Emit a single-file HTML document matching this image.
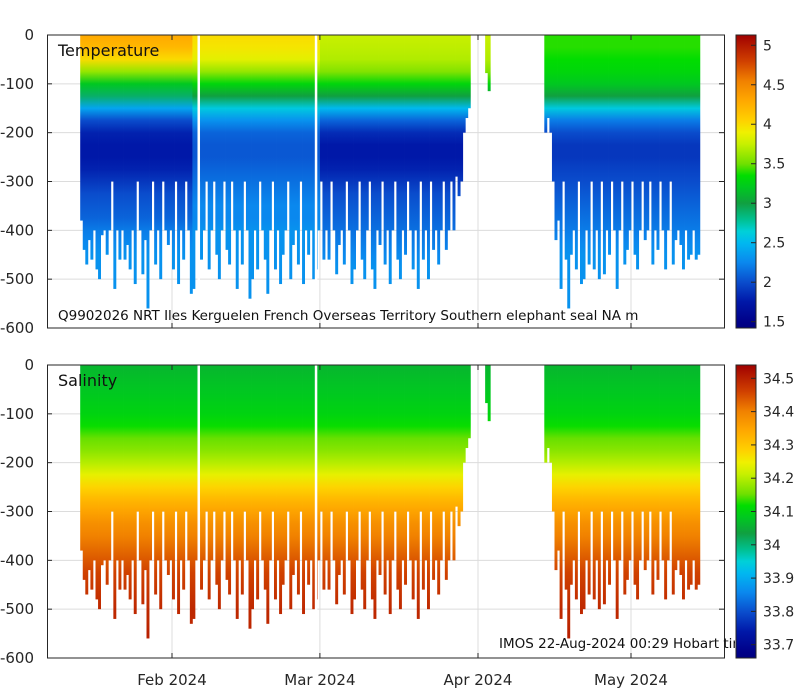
<!DOCTYPE html>
<html><head><meta charset="utf-8"><style>
html,body{margin:0;padding:0;background:#fff;}
svg{display:block;font-family:"DejaVu Sans","Liberation Sans",sans-serif;}
</style></head><body>
<svg id="chart" width="800" height="700" viewBox="0 0 800 700" xmlns="http://www.w3.org/2000/svg">
<defs>
<clipPath id="clipTop"><rect x="47" y="35" width="677" height="293"/></clipPath>
<clipPath id="clipBot"><rect x="47" y="365" width="677" height="293"/></clipPath>
<clipPath id="clipCap"><rect x="47" y="365" width="688" height="293"/></clipPath>
</defs>
<g id="layer"></g>
</svg>
<script>
// ---- data ----
const depthLevels = [0,25,50,75,100,125,150,175,200,225,250,275,300,325,350,375,400,425,450,475,500,525,550,575,600];
const tempJan = [4.3,4.2,4.0,3.6,3.2,2.9,2.4,2.0,1.8,1.75,1.75,1.8,1.9,2.0,2.05,2.1,2.2,2.25,2.3,2.3,2.3,2.3,2.3,2.3,2.3];
const tempFeb = [4.0,3.95,3.85,3.6,3.3,3.0,2.6,2.3,2.1,2.05,2.05,2.1,2.15,2.2,2.25,2.25,2.3,2.3,2.3,2.3,2.3,2.3,2.3,2.3,2.3];
const tempMar = [3.75,3.72,3.68,3.55,3.3,3.0,2.5,2.1,1.85,1.75,1.75,1.8,1.9,2.0,2.05,2.1,2.15,2.2,2.25,2.3,2.3,2.3,2.3,2.3,2.3];
const tempAprMay = [3.4,3.4,3.35,3.3,3.2,3.0,2.6,2.2,2.0,1.9,1.9,1.95,2.0,2.05,2.1,2.15,2.2,2.25,2.3,2.3,2.3,2.3,2.3,2.3,2.3];
const salProfile = [34.06,34.07,34.08,34.09,34.1,34.12,34.15,34.17,34.2,34.24,34.28,34.32,34.35,34.38,34.4,34.42,34.44,34.46,34.47,34.48,34.49,34.49,34.5,34.5,34.5];
// profiles: start day (days since 1 Jan 2024), spacing 0.5 day
const segAStart = 13;
const segADepths = [380,440,470,420,460,400,480,500,410,400,450,400,300,520,400,460,
400,460,430,480,400,510,300,400,490,420,560,400,300,470,400,500,
300,400,430,400,480,300,510,400,460,300,400,530,520,400,300,460,
400,300,480,400,300,450,500,400,300,440,470,300,400,520,400,470,
300,400,540,500,400,480,300,400,460,530,400,300,480,400,510,450,
400,300,500,430,400,470,300,510,400,450,400,500,480,400,300,460,
400,460,300,400,490,430,400,470,300,400,510,480,400,300,460,500,
400,300,480,520,400,430,300,470,400,510,400,300,460,500,400,450,
300,400,480,400,520,300,460,400,500,300,440,400,470,400,300,440,
400,300,400,290,330,300,200,170,150];
const segMidDays = [92.4,92.9];
const segMidDepths = [78,115];
const segBStart = 104;
const segBDepths = [200,170,200,300,420,380,520,300,460,560,450,400,480,300,510,500,400,470,300,480,
400,500,300,490,400,450,300,400,520,400,300,470,440,400,300,450,480,400,300,420,
400,300,470,400,440,300,400,480,400,300,470,420,400,430,480,400,460,450,400,460,450];
const gapDays = [36,59];
const xTickDays = [31,60,91,121];
const xTickLabels = ["Feb 2024","Mar 2024","Apr 2024","May 2024"];
const yTicks = [0,-100,-200,-300,-400,-500,-600];
const tempTicks = [1.5,2,2.5,3,3.5,4,4.5,5];
const salTicks = [33.7,33.8,33.9,34,34.1,34.2,34.3,34.4,34.5];

// ---- scales ----
const NS="http://www.w3.org/2000/svg";
const X0=47,X1=724;
const xOf = d => 172 + (d-31)*5.1;
const panels=[{top:35,bot:328},{top:365,bot:658}];
const yOf = (p,dep) => p.top + dep/600*(p.bot-p.top);
const TMIN=1.42,TMAX=5.13,SMIN=33.66,SMAX=34.54;
const cmap=[[0,"#000080"],[0.02,"#000088"],[0.09,"#0018a8"],[0.156,"#0a4ccc"],[0.224,"#0a88ee"],[0.29,"#00b8f0"],[0.33,"#00d0d8"],[0.37,"#00c090"],[0.426,"#10a040"],[0.48,"#00c820"],[0.52,"#00dd00"],[0.56,"#70e000"],[0.628,"#c8f000"],[0.668,"#f0f000"],[0.71,"#ffd000"],[0.776,"#ffa800"],[0.844,"#f08000"],[0.91,"#d04000"],[1,"#a00000"]];
function hex(h){return [1,3,5].map(i=>parseInt(h.substr(i,2),16));}
function colorAt(t){t=Math.max(0,Math.min(1,t));for(let i=1;i<cmap.length;i++){if(t<=cmap[i][0]){const a=cmap[i-1],b=cmap[i];const f=(t-a[0])/(b[0]-a[0]||1);const ca=hex(a[1]),cb=hex(b[1]);return "rgb("+ca.map((v,k)=>Math.round(v+(cb[k]-v)*f)).join(",")+")";}}return cmap[cmap.length-1][1];}
const svg=document.getElementById('chart'),layer=document.getElementById('layer'),defs=svg.querySelector('defs');
function el(tag,attrs,parent){const e=document.createElementNS(NS,tag);for(const k in attrs)e.setAttribute(k,attrs[k]);(parent||layer).appendChild(e);return e;}
function grad(id,values,p,vmin,vmax){const g=el('linearGradient',{id:id,gradientUnits:'userSpaceOnUse',x1:0,x2:0,y1:p.top,y2:p.bot},defs);values.forEach((v,i)=>{el('stop',{offset:(depthLevels[i]/600).toFixed(4),'stop-color':colorAt((v-vmin)/(vmax-vmin))},g);});}
grad('gTJan',tempJan,panels[0],TMIN,TMAX);grad('gTFeb',tempFeb,panels[0],TMIN,TMAX);grad('gTMar',tempMar,panels[0],TMIN,TMAX);grad('gTApr',tempAprMay,panels[0],TMIN,TMAX);
grad('gS',salProfile,panels[1],SMIN,SMAX);
function tempGrad(d){return d<35?'gTJan':d<60?'gTFeb':d<95?'gTMar':'gTApr';}

// profile list
const profiles=[];
segADepths.forEach((dep,i)=>profiles.push({day:segAStart+i*0.5,w:0.5,dep:dep}));
segMidDays.forEach((d,i)=>profiles.push({day:d,w:0.5,dep:segMidDepths[i]}));
segBDepths.forEach((dep,i)=>profiles.push({day:segBStart+i*0.5,w:0.5,dep:dep}));

// grid & axes
panels.forEach((p,pi)=>{
  const g=el('g',{});
  
  
  yTicks.forEach(v=>{const y=yOf(p,-v);el('line',{x1:X0,x2:X1,y1:y,y2:y,stroke:'#dcdcdc','stroke-width':1},g);});
  xTickDays.forEach(d=>{const x=xOf(d);el('line',{x1:x,x2:x,y1:p.top,y2:p.bot,stroke:'#dcdcdc','stroke-width':1},g);});
  const m=el('g',{'clip-path':pi?'url(#clipBot)':'url(#clipTop)'});
  
  
  profiles.forEach(pr=>{
    const x=xOf(pr.day),w=pr.w*5.1+0.4;
    const r=el('rect',{x:x.toFixed(2),y:p.top,width:w.toFixed(2),height:(yOf(p,pr.dep)-p.top).toFixed(2),fill:'url(#'+(pi?'gS':tempGrad(pr.day))+')'},m);
    
    
  });
  gapDays.forEach(d=>{el('rect',{x:xOf(d),y:p.top,width:2.5,height:p.bot-p.top,fill:'#fff'},m);});
  const ax=el('g',{});
  
  
  el('rect',{x:X0+0.5,y:p.top,width:X1-X0,height:p.bot-p.top,fill:'none',stroke:'#262626','stroke-width':1},ax);
  yTicks.forEach(v=>{const y=yOf(p,-v);el('line',{x1:X0,x2:X0+5,y1:y,y2:y,stroke:'#262626'},ax);el('line',{x1:X1-5,x2:X1,y1:y,y2:y,stroke:'#262626'},ax);
    const t=el('text',{x:34,y:y+5,'text-anchor':'end','font-size':15,fill:'#262626'},ax);t.textContent=String(v);
    });
  xTickDays.forEach(d=>{const x=xOf(d);el('line',{x1:x,x2:x,y1:p.top,y2:p.top+5,stroke:'#262626'},ax);el('line',{x1:x,x2:x,y1:p.bot-5,y2:p.bot,stroke:'#262626'},ax);});
});
// x labels
xTickDays.forEach((d,i)=>{const t=el('text',{x:xOf(d),y:685,'text-anchor':'middle','font-size':15,fill:'#262626'});t.textContent=xTickLabels[i];
  });
// titles / captions
function txt(s,x,y,fs,name,clip){const t=el('text',{x:x,y:y,'font-size':fs,fill:'#111'});if(clip)t.setAttribute('clip-path',clip);t.textContent=s;return t;}
txt('Temperature',58,56,16,'temperature-title');
txt('Salinity',58,386,16,'salinity-title');
txt('Q9902026 NRT Iles Kerguelen French Overseas Territory Southern elephant seal NA m',58,320,13.5,'platform-caption');
txt('IMOS 22-Aug-2024 00:29 Hobart time',499,648,13.5,'imos-caption','url(#clipCap)');
// colorbars
function colorbar(p,vmin,vmax,ticks,fmt,name){
  const g=el('g',{});
  const id='cb'+name;const lg=el('linearGradient',{id:id,x1:0,x2:0,y1:1,y2:0},defs);
  cmap.forEach(s=>el('stop',{offset:s[0],'stop-color':s[1]},lg));
  el('rect',{x:736,y:p.top,width:20,height:p.bot-p.top,fill:'url(#'+id+')',stroke:'#262626','stroke-width':1},g);
  ticks.forEach(v=>{const y=p.bot-(v-vmin)/(vmax-vmin)*(p.bot-p.top);el('line',{x1:751,x2:756,y1:y,y2:y,stroke:'#262626'},g);
    const t=el('text',{x:763,y:y+5,'font-size':14,fill:'#262626'},g);t.textContent=fmt(v);
    });
}
colorbar(panels[0],TMIN,TMAX,tempTicks,v=>String(v),'temperature-colorbar');
colorbar(panels[1],SMIN,SMAX,salTicks,v=>String(v),'salinity-colorbar');
</script>
</body></html>
